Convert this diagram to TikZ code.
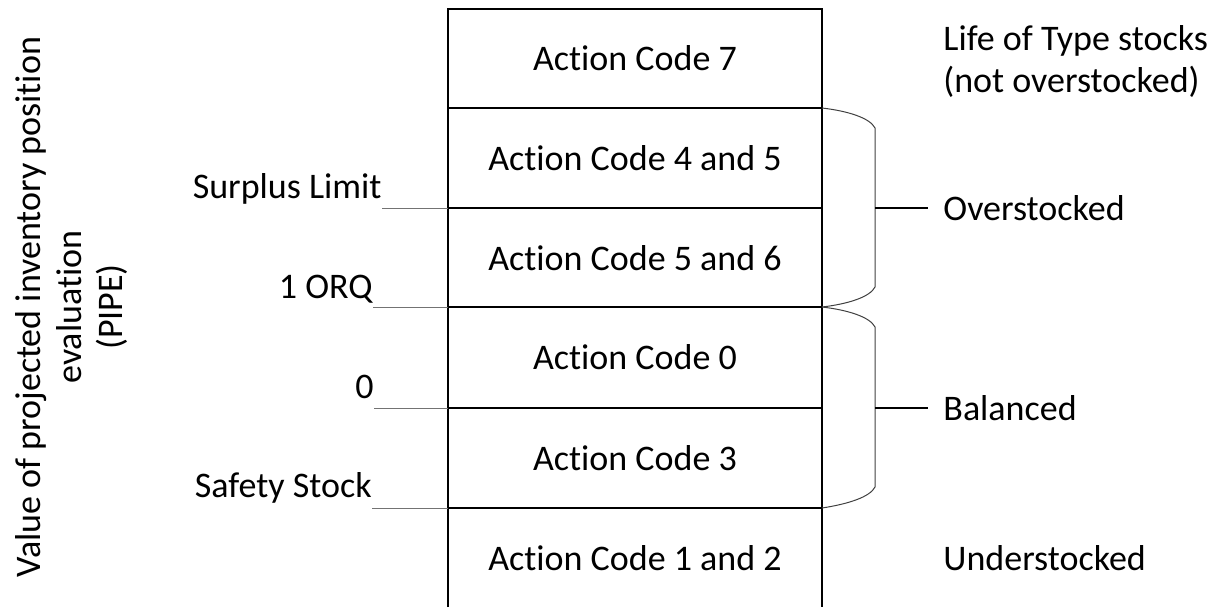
\documentclass[tikz,border=0pt]{standalone}
\usepackage{fontspec}
\setmainfont{Carlito}[Ligatures=NoCommon]
\usetikzlibrary{positioning}

\begin{document}
\begin{tikzpicture}[x=0.5pt,y=-0.5pt,
  every node/.style={font=\fontsize{18}{21}\selectfont},
  frame/.style={line width=1.2pt},
  level/.style={draw=black!55,line width=0.5pt},
  brace/.style={draw=black!75,line width=0.5pt},
  tip/.style={line width=0.7pt},
  mark label/.style={anchor=base east,inner sep=0pt},
  group label/.style={anchor=west,inner sep=0pt,inner xsep=7.5pt}]
\useasboundingbox (0,0) rectangle (1213,607);

% the stacked action code column (open at the bottom)
\draw[frame] (448,607) -- (448,9) -- (822,9) -- (822,607);
\foreach \y/\n in {108/a,208/b,307/c,408/d,508/e}{
  \draw[frame] (448,\y) -- (822,\y);
  \coordinate (l\n) at (448,\y);
  \coordinate (r\n) at (822,\y);
}

\node (ac7)  at (635,58)  {Action Code 7};
\node (ac45) at (635,158) {Action Code 4 and 5};
\node (ac56) at (635,258) {Action Code 5 and 6};
\node (ac0)  at (635,357) {Action Code 0};
\node (ac3)  at (635,458) {Action Code 3};
\node (ac12) at (635,558) {Action Code 1 and 2};

% axis title
\node[rotate=90,align=center,font=\fontsize{18}{20.5}\selectfont] (pipe) at (71,307)
  {Value of projected inventory position\\evaluation\\(PIPE)};

% threshold marks on the left
\node[mark label] (surplus) at (382,198) {Surplus Limit};
\node[mark label] (orq)     at (373,298) {1 ORQ};
\node[mark label] (zero)    at (374,398) {0};
\node[mark label] (safety)  at (372,497) {Safety Stock};
\draw[level] (surplus.east |- lb) -- (lb);
\draw[level] (orq.east |- lc) -- (lc);
\draw[level] (zero.east |- ld) -- (ld);
\draw[level] (safety.east |- le) -- (le);

% braces on the right
\coordinate (otip) at (875,208);
\coordinate (btip) at (875,408);
\draw[brace] (ra) .. controls (848,111) and (870,118) .. (875,128)
  -- (875,287) .. controls (870,297) and (848,304) .. (rc);
\draw[brace] (rc) .. controls (848,310) and (870,317) .. (875,327)
  -- (875,487) .. controls (870,497) and (848,504) .. (re);

\node[group label] (over) at (928,208) {Overstocked};
\node[group label] (bal)  at (928,408) {Balanced};
\node[anchor=west,inner sep=0pt] (under) at (943,558) {Understocked};
\node[anchor=west,align=left,inner sep=0pt] (life) at (943,61)
  {Life of Type stocks\\(not overstocked)};
\draw[tip] (otip) -- (over);
\draw[tip] (btip) -- (bal);
\end{tikzpicture}
\end{document}
